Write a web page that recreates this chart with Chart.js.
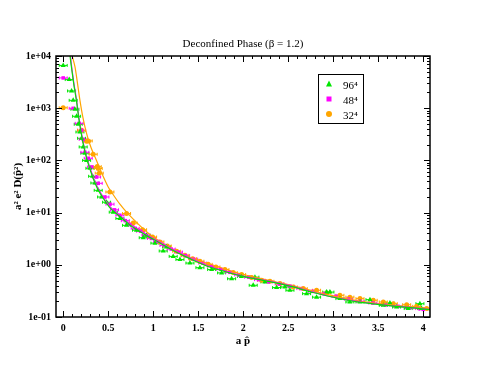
<!DOCTYPE html>
<html>
<head>
<meta charset="utf-8">
<script src="https://cdn.jsdelivr.net/npm/chart.js@4/dist/chart.umd.min.js"></script>
<style>
  html, body { margin: 0; padding: 0; background: #fff; }
  canvas { display: block; }
</style>
</head>
<body>
<canvas id="plot" width="485" height="374"></canvas>
<script>
// series labels and colours
var seriesNames = ['96\u2074', '48\u2074', '32\u2074'];
var colors = ['#00e600', '#ff00ff', '#ffa500'];

// tick values / labels
var xTicks = [0, 0.5, 1, 1.5, 2, 2.5, 3, 3.5, 4];
var xTickLabels = ['0', '0.5', '1', '1.5', '2', '2.5', '3', '3.5', '4'];
var yTicks = [0.1, 1, 10, 100, 1000, 10000];
var yTickLabels = ['1e-01', '1e+00', '1e+01', '1e+02', '1e+03', '1e+04'];

// 96^4 data (a p-hat, value)
var x96 = [0.0, 0.067, 0.093, 0.111, 0.13, 0.149, 0.167, 0.186, 0.204, 0.222, 0.241, 0.26, 0.297, 0.327,
  0.352, 0.389, 0.427, 0.482, 0.556, 0.63, 0.704, 0.815, 0.889, 0.926, 1.019, 1.111, 1.148, 1.222, 1.297,
  1.408, 1.519, 1.649, 1.76, 1.871, 1.98, 2.111, 2.13, 2.241, 2.371, 2.463, 2.519, 2.704, 2.815, 2.927,
  2.963, 3.074, 3.185, 3.297, 3.408, 3.556, 3.63, 3.704, 3.833, 3.963, 3.982];
var y96 = [6600, 3530, 2140, 1415, 953, 700, 492, 350, 265, 181, 137, 100, 70.6, 49.6,
  36.9, 26.7, 19.9, 15.8, 10.2, 7.7, 5.7, 4.6, 3.3, 3.67, 2.6, 1.84, 2.2, 1.45, 1.26,
  1.08, 0.88, 0.81, 0.70, 0.54, 0.60, 0.405, 0.58, 0.47, 0.366, 0.376, 0.325, 0.28, 0.24, 0.30,
  0.30, 0.225, 0.194, 0.194, 0.215, 0.167, 0.185, 0.155, 0.145, 0.18, 0.145];

// 48^4 data
var x48 = [0.0, 0.111, 0.178, 0.204, 0.222, 0.241, 0.278, 0.316, 0.371, 0.389, 0.463, 0.52, 0.57, 0.63,
  0.69, 0.74, 0.8, 0.86, 0.92, 0.98, 1.05, 1.12, 1.2, 1.28, 1.36, 1.45, 1.55, 1.65, 1.75, 1.85, 1.95,
  2.06, 2.17, 2.28, 2.4, 2.52, 2.64, 2.77, 2.9, 3.03, 3.17, 3.3, 3.44, 3.58, 3.72, 3.85, 3.96, 4.0];
var y48 = [3800, 995, 513, 378, 253, 143, 110, 75, 48, 36.4, 19.9, 14.5, 11.3, 8.9,
  7.0, 5.9, 5.0, 4.4, 3.7, 3.2, 2.8, 2.35, 2.0, 1.75, 1.5, 1.28, 1.08, 0.93, 0.82, 0.72, 0.64,
  0.58, 0.52, 0.47, 0.43, 0.39, 0.35, 0.31, 0.28, 0.25, 0.22, 0.20, 0.185, 0.17, 0.16, 0.15, 0.145, 0.14];

// 32^4 data
var x32 = [0.0, 0.204, 0.26, 0.278, 0.333, 0.378, 0.389, 0.4, 0.519, 0.704, 0.778, 0.882, 0.993, 1.074,
  1.156, 1.26, 1.352, 1.438, 1.519, 1.611, 1.697, 1.797, 1.889, 1.982, 2.093, 2.204, 2.297, 2.408,
  2.556, 2.667, 2.815, 2.927, 3.074, 3.185, 3.297, 3.444, 3.556, 3.667, 3.816, 3.927, 4.038];
var y32 = [1020, 378, 234, 236, 131, 76, 70, 57, 24.8, 9.6, 6.3, 4.7, 3.4, 2.74,
  2.29, 1.82, 1.52, 1.31, 1.17, 1.02, 0.91, 0.81, 0.71, 0.65, 0.57, 0.505, 0.483, 0.436,
  0.376, 0.35, 0.325, 0.288, 0.26, 0.24, 0.225, 0.209, 0.194, 0.18, 0.172, 0.16, 0.145];

// fit curves
var fitX96 = [0.072, 0.08, 0.1, 0.12, 0.149, 0.175, 0.204, 0.23, 0.26, 0.3, 0.333, 0.38, 0.444, 0.52, 0.63,
  0.74, 0.852, 0.96, 1.074, 1.2, 1.4, 1.593, 1.78, 1.963, 2.15, 2.333, 2.519, 2.778, 2.95, 3.149, 3.33,
  3.519, 3.7, 3.889, 4.074];
var fitY96 = [12000, 8800, 4800, 2700, 1320, 610, 305, 180, 110, 66, 45, 29, 18.8, 12.3, 8.4,
  5.8, 4.35, 3.35, 2.62, 1.97, 1.33, 0.95, 0.76, 0.62, 0.53, 0.46, 0.39, 0.295, 0.25, 0.212, 0.188,
  0.172, 0.16, 0.149, 0.138];
var fitX48 = [0.075, 0.082, 0.1, 0.12, 0.149, 0.175, 0.204, 0.23, 0.26, 0.3, 0.333, 0.38, 0.444, 0.52, 0.63,
  0.74, 0.852, 0.96, 1.074, 1.2, 1.4, 1.593, 1.78, 1.963, 2.15, 2.333, 2.519, 2.778, 2.95, 3.149, 3.33,
  3.519, 3.7, 3.889, 4.074];
var fitY48 = [14000, 9600, 5200, 2900, 1415, 650, 326, 190, 116, 70, 48, 31, 19.9, 13, 8.87,
  6.1, 4.58, 3.5, 2.73, 2.05, 1.38, 0.98, 0.78, 0.63, 0.54, 0.47, 0.40, 0.30, 0.25, 0.215, 0.19,
  0.175, 0.162, 0.151, 0.139];
var fitX32 = [0.1, 0.131, 0.16, 0.186, 0.22, 0.26, 0.31, 0.37, 0.43, 0.5, 0.556, 0.63, 0.704, 0.8, 0.889,
  0.98, 1.074, 1.222, 1.4, 1.593, 1.78, 1.963, 2.15, 2.333, 2.519, 2.778, 2.95, 3.149, 3.33, 3.519, 3.7,
  3.889, 4.074];
var fitY32 = [10000, 6200, 2900, 1415, 650, 327, 175, 100, 56, 31, 22, 14.5, 10.2, 6.9, 4.9,
  3.6, 2.8, 1.95, 1.4, 1.08, 0.85, 0.68, 0.57, 0.48, 0.41, 0.315, 0.265, 0.225, 0.198, 0.18, 0.166,
  0.155, 0.145];

function pts(xs, ys) {
  return xs.map(function(x, i) { return { x: x, y: ys[i] }; });
}

var serif = '"Liberation Serif", "DejaVu Serif", serif';

// frame, inward ticks, error bars, title, axis titles and legend box
var decor = {
  id: 'decor',
  beforeDatasetsDraw: function(chart) {
    // horizontal error bars on the symbols
    var ctx = chart.ctx, a = chart.chartArea;
    ctx.save();
    ctx.beginPath();
    ctx.rect(a.left, a.top, a.right - a.left, a.bottom - a.top);
    ctx.clip();
    ctx.lineWidth = 1;
    [3, 4, 5].forEach(function(di) {
      var meta = chart.getDatasetMeta(di);
      ctx.strokeStyle = chart.data.datasets[di].backgroundColor;
      meta.data.forEach(function(el) {
        ctx.beginPath();
        ctx.moveTo(el.x - 4, el.y); ctx.lineTo(el.x + 4, el.y);
        ctx.moveTo(el.x - 4, el.y - 1.5); ctx.lineTo(el.x - 4, el.y + 1.5);
        ctx.moveTo(el.x + 4, el.y - 1.5); ctx.lineTo(el.x + 4, el.y + 1.5);
        ctx.stroke();
      });
    });
    ctx.restore();
  },
  afterDraw: function(chart) {
    var ctx = chart.ctx, a = chart.chartArea;
    var xs = chart.scales.x, ys = chart.scales.y;
    ctx.save();
    ctx.strokeStyle = '#000';
    ctx.lineWidth = 1.5;
    ctx.strokeRect(a.left, a.top, a.right - a.left, a.bottom - a.top);

    ctx.lineWidth = 1;
    ctx.beginPath();
    // x ticks (major every 0.5, minor every 0.1)
    for (var i = 0; i <= 40; i++) {
      var v = i / 10;
      var px = Math.round(xs.getPixelForValue(v)) + 0.5;
      var len = (i % 5 === 0) ? 6 : 3;
      ctx.moveTo(px, a.bottom); ctx.lineTo(px, a.bottom - len);
      ctx.moveTo(px, a.top); ctx.lineTo(px, a.top + len);
    }
    // y ticks (decades major, 2..9 minor)
    for (var d = -1; d < 4; d++) {
      for (var m = 1; m <= 10; m++) {
        var val = m * Math.pow(10, d);
        var py = Math.round(ys.getPixelForValue(val)) + 0.5;
        var l = (m === 1 || m === 10) ? 6 : 3;
        ctx.moveTo(a.left, py); ctx.lineTo(a.left + l, py);
        ctx.moveTo(a.right, py); ctx.lineTo(a.right - l, py);
      }
    }
    ctx.stroke();

    // title
    ctx.fillStyle = '#000';
    ctx.textAlign = 'center';
    ctx.textBaseline = 'middle';
    ctx.font = '11px ' + serif;
    ctx.fillText('Deconfined Phase (\u03b2 = 1.2)', (a.left + a.right) / 2, 44);

    // x title
    ctx.font = 'bold 11px ' + serif;
    ctx.fillText('a p\u0302', (a.left + a.right) / 2, 341);

    // y title
    ctx.save();
    ctx.translate(18, (a.top + a.bottom) / 2);
    ctx.rotate(-Math.PI / 2);
    ctx.fillText('a\u00b2 e\u00b2 D(p\u0302\u00b2)', 0, 0);
    ctx.restore();

    // legend box
    ctx.lineWidth = 1;
    ctx.strokeRect(318.5, 74.5, 45, 49);
    ctx.font = '11px ' + serif;
    ctx.textAlign = 'left';
    for (var k = 0; k < 3; k++) {
      var ly = 84 + k * 15;
      var ds = chart.data.datasets[3 + k];
      ctx.fillStyle = ds.backgroundColor;
      drawMarker(ctx, ds.pointStyle, 329, ly, 3);
      ctx.fillStyle = '#000';
      ctx.fillText(seriesNames[k], 343, ly + 2);
    }
    ctx.restore();
  }
};

function drawMarker(ctx, style, x, y, r) {
  ctx.beginPath();
  if (style === 'triangle') {
    ctx.moveTo(x, y - r - 0.5); ctx.lineTo(x + r, y + r * 0.8); ctx.lineTo(x - r, y + r * 0.8);
    ctx.closePath();
  } else if (style === 'rect') {
    ctx.rect(x - r + 0.5, y - r + 0.5, 2 * r - 1, 2 * r - 1);
  } else {
    ctx.arc(x, y, r, 0, Math.PI * 2);
  }
  ctx.fill();
}

function fitSet(xs, ys, c) {
  return {
    type: 'line', data: pts(xs, ys), borderColor: c, borderWidth: 1.2,
    pointRadius: 0, fill: false, cubicInterpolationMode: 'monotone'
  };
}

function symSet(xs, ys, c, style, r) {
  return {
    type: 'scatter', data: pts(xs, ys), backgroundColor: c, borderColor: c,
    pointStyle: style, pointRadius: r, borderWidth: 0, showLine: false
  };
}

new Chart(document.getElementById('plot').getContext('2d'), {
  type: 'scatter',
  data: {
    datasets: [
      fitSet(fitX96, fitY96, colors[0]),
      fitSet(fitX48, fitY48, colors[1]),
      fitSet(fitX32, fitY32, colors[2]),
      symSet(x96, y96, colors[0], 'triangle', 3),
      symSet(x48, y48, colors[1], 'rect', 2.5),
      symSet(x32, y32, colors[2], 'circle', 2.5)
    ]
  },
  options: {
    responsive: false,
    animation: false,
    layout: { padding: { left: 0, right: 55, top: 56, bottom: 0 } },
    plugins: { legend: { display: false }, title: { display: false }, tooltip: { enabled: false } },
    scales: {
      x: {
        type: 'linear', min: -0.08, max: 4.075,
        grid: { display: false, drawTicks: false },
        border: { display: false },
        afterBuildTicks: function(s) { s.ticks = xTicks.map(function(v) { return { value: v }; }); },
        afterFit: function(s) { s.height = 57; },
        ticks: {
          padding: 5, maxRotation: 0, autoSkip: false, color: '#000',
          font: { family: serif, size: 10, weight: 'bold' },
          callback: function(v) { return xTickLabels[xTicks.indexOf(v)]; }
        }
      },
      y: {
        type: 'logarithmic', min: 0.1, max: 10000,
        grid: { display: false, drawTicks: false },
        border: { display: false },
        afterBuildTicks: function(s) { s.ticks = yTicks.map(function(v) { return { value: v }; }); },
        afterFit: function(s) { s.width = 56; },
        ticks: {
          padding: 5, autoSkip: false, color: '#000',
          font: { family: serif, size: 10, weight: 'bold' },
          callback: function(v) { return yTickLabels[yTicks.indexOf(v)]; }
        }
      }
    }
  },
  plugins: [decor]
});
</script>
</body>
</html>
